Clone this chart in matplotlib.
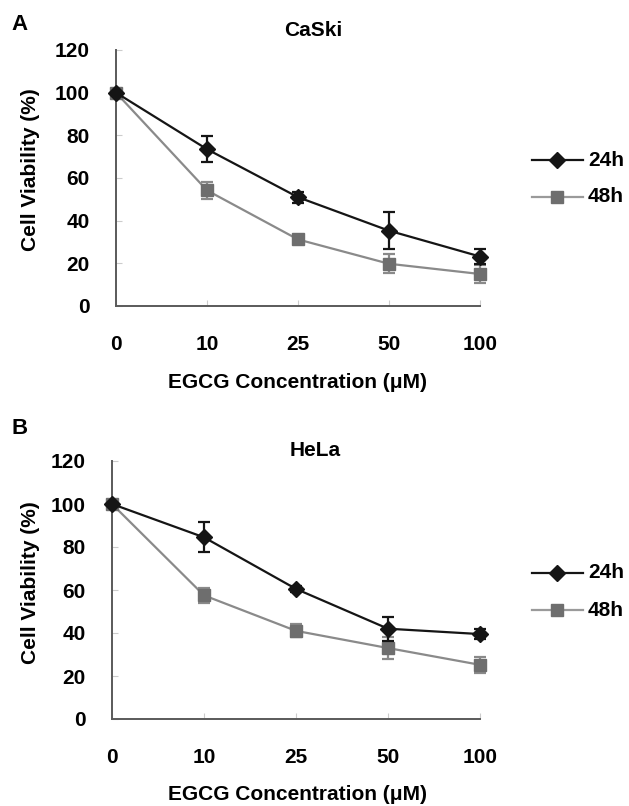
"""
EGCG dose response: cell viability of CaSki and HeLa cells at 24h / 48h
"""

import matplotlib
matplotlib.use('Agg')
import matplotlib.pyplot as plt
import numpy as np

plt.rcParams['font.family'] = ['Liberation Sans', 'DejaVu Sans']
plt.rcParams['font.weight'] = 'bold'

# data
concentrations = ['0', '10', '25', '50', '100']

caski_24h = [100, 73.5, 51, 35.3, 23.2]
caski_24h_err = [0, 6.0, 2.6, 8.8, 3.4]
caski_48h = [100, 54.2, 31.2, 19.8, 15.0]
caski_48h_err = [0, 4.0, 1.5, 4.4, 4.4]

hela_24h = [100, 84.5, 60.5, 42.0, 39.5]
hela_24h_err = [0, 7.0, 1.5, 5.5, 2.5]
hela_48h = [100, 57.5, 41.0, 33.0, 25.2]
hela_48h_err = [0, 3.6, 3.0, 5.0, 3.8]

W, H = 629, 806
C24 = '#151515'
C48_LINE = '#8a8a8a'
C48_MARK = '#6e6e6e'
AXIS_COL = '#5a5a5a'
FS = 15


def px(x, y):
    """pixel coords (from top-left) to figure fraction"""
    return x / W, 1 - y / H


def draw_panel(fig, rect, title, d24, e24, d48, e48, letter, lab_pos):
    left, top, right, bottom = rect
    ax = fig.add_axes([left / W, 1 - bottom / H, (right - left) / W, (bottom - top) / H])
    x = np.arange(len(concentrations))

    ax.errorbar(x, d24, yerr=e24, color=C24, lw=1.6, marker='D', ms=8.5,
                mfc=C24, mec=C24, capsize=4.3, capthick=1.6, elinewidth=1.6,
                clip_on=False, zorder=4)
    ax.errorbar(x, d48, yerr=e48, color=C48_LINE, lw=1.6, marker='s', ms=8,
                mfc=C48_MARK, mec=C48_MARK, ecolor=C48_LINE, capsize=4.3,
                capthick=1.6, elinewidth=1.6, clip_on=False, zorder=3)

    ax.set_xlim(0, len(concentrations) - 1)
    ax.set_ylim(0, 120)
    ax.set_yticks(np.arange(0, 121, 20))
    ax.set_xticks(x)
    ax.set_xticklabels(concentrations)
    for s in ['top', 'right']:
        ax.spines[s].set_visible(False)
    for s in ['left', 'bottom']:
        ax.spines[s].set_color(AXIS_COL)
        ax.spines[s].set_linewidth(1.4)
    ax.tick_params(axis='y', direction='in', length=4, color='#cccccc',
                   labelsize=FS, pad=19)
    ax.tick_params(axis='x', direction='in', length=4, color='#cccccc',
                   labelsize=FS, pad=21)
    for lbl in ax.get_xticklabels() + ax.get_yticklabels():
        lbl.set_fontweight('bold')

    # title, axis labels, panel letter
    tx, ty = lab_pos['title']
    fig.text(*px(tx, ty), title, ha='center', va='center', fontsize=FS, fontweight='bold')
    xx, xy = lab_pos['xlabel']
    fig.text(*px(xx, xy), 'EGCG Concentration (\u03bcM)', ha='center', va='center',
             fontsize=FS, fontweight='bold')
    yx, yy = lab_pos['ylabel']
    fig.text(*px(yx, yy), 'Cell Viability (%)', ha='center', va='center',
             rotation=90, fontsize=FS, fontweight='bold')
    lx, ly = lab_pos['letter']
    fig.text(*px(lx, ly), letter, ha='center', va='center', fontsize=16, fontweight='bold')

    # legend drawn by hand to the right of the plot
    for (ly_, c_line, c_mark, mk, ms, lab) in [
            (lab_pos['leg'][0], C24, C24, 'D', 8.5, '24h'),
            (lab_pos['leg'][1], '#9a9a9a', C48_MARK, 's', 8, '48h')]:
        x0, y0 = px(532, ly_)
        x1, _ = px(583, ly_)
        xm, _ = px(557, ly_)
        fig.add_artist(plt.Line2D([x0, x1], [y0, y0], color=c_line, lw=1.6,
                                  transform=fig.transFigure))
        fig.add_artist(plt.Line2D([xm], [y0], marker=mk, ms=ms, color=c_mark,
                                  mec=c_mark, transform=fig.transFigure))
        fig.text(*px(588, ly_), lab, ha='left', va='center', fontsize=FS, fontweight='bold')
    return ax


def main():
    fig = plt.figure(figsize=(W / 100, H / 100), dpi=100)

    draw_panel(fig, (116, 50, 480, 306), 'CaSki',
               caski_24h, caski_24h_err, caski_48h, caski_48h_err, 'A',
               {'title': (313, 30), 'xlabel': (298, 383), 'ylabel': (30, 170),
                'letter': (20, 25), 'leg': (160, 197)})

    draw_panel(fig, (112, 461, 480, 719), 'HeLa',
               hela_24h, hela_24h_err, hela_48h, hela_48h_err, 'B',
               {'title': (315, 450), 'xlabel': (298, 795), 'ylabel': (30, 583),
                'letter': (20, 428), 'leg': (573, 610)})

    fig.savefig('out.png', dpi=100)


if __name__ == "__main__":
    main()
